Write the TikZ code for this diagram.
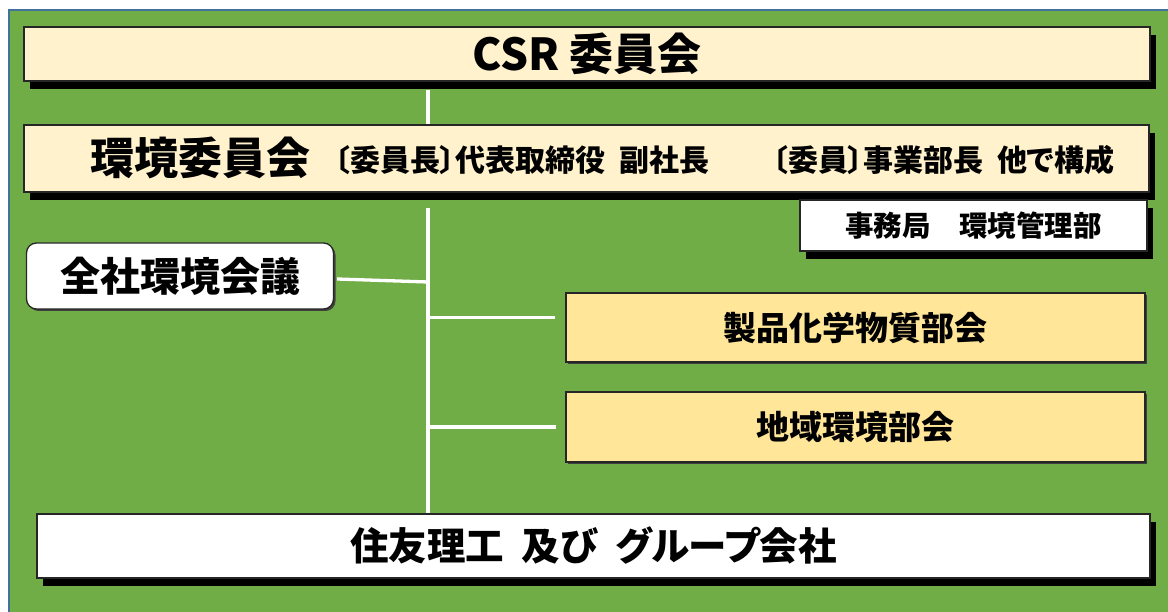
\documentclass[tikz,border=0pt]{standalone}
\usepackage{fontspec}
\setmainfont{Noto Sans CJK JP}
\newfontfamily\jpp{Noto Sans CJK JP}[RawFeature={+palt}]
\usetikzlibrary{shadows,calc}
\definecolor{bggreen}{HTML}{70AD47}
\definecolor{panelblue}{HTML}{41719C}
\definecolor{cream}{HTML}{FFF2CC}
\definecolor{gold}{HTML}{FFE699}
\definecolor{edge}{HTML}{262626}
\tikzset{
  hardshadow/.style={drop shadow={shadow xshift=6pt,shadow yshift=-8pt,opacity=1,fill=black}},
  softshadow/.style={drop shadow={shadow xshift=2pt,shadow yshift=-2pt,opacity=1,fill=black!75}},
  boxbase/.style={rectangle,draw=edge,line width=1.3pt,inner sep=0pt,align=center},
  wire/.style={draw=white,line width=3.3pt},
  txt/.style={inner sep=0pt},
  fs/.style={font=\fontsize{#1}{#1}\selectfont\bfseries}
}
\begin{document}
\begin{tikzpicture}[x=1pt,y=-1pt]
\useasboundingbox (0,0) rectangle (1168,612);
\fill[white] (0,0) rectangle (1168,612);
\draw[fill=bggreen,draw=panelblue,line width=1.5pt] (9,10) rectangle (1172,616);

% boxes
\node[boxbase,hardshadow,fill=cream,minimum width=1126pt,minimum height=54pt,fs=44] (csr) at (587,54) {CSR 委員会};
\node[boxbase,hardshadow,fill=cream,minimum width=1125pt,minimum height=67pt] (env) at (586.5,158.5) {};
\node[boxbase,hardshadow,fill=white,minimum width=347pt,minimum height=51pt,fs=28.5] (sec) at (973.5,225.5) {事務局　環境管理部};
\node[boxbase,fill=white,rounded corners=10pt,softshadow,minimum width=307pt,minimum height=66pt,fs=40] (zen) at (180,276) {全社環境会議};
\node[boxbase,softshadow,fill=gold,minimum width=579pt,minimum height=69pt,fs=33] (prod) at (855.5,327.5) {製品化学物質部会};
\node[boxbase,softshadow,fill=gold,minimum width=579pt,minimum height=70pt,fs=33] (reg) at (855.5,427) {地域環境部会};
\node[boxbase,hardshadow,fill=white,minimum width=1113pt,minimum height=64pt,fs=38.5] (grp) at (593.5,546) {\jpp 住友理工\ \ 及び\ \ グループ会社};

% texts in the environment committee box
\node[txt,anchor=west,fs=44] (envt) at (90,158) {環境委員会};
\node[txt,anchor=west,fs=30] (chair) at (335,160) {\jpp 〔委員長〕代表取締役\hspace{14pt}副社長};
\node[txt,anchor=west,fs=30] (members) at (773,160) {\jpp 〔委員〕事業部長\hspace{14pt}他で構成};

% connectors
\coordinate (s0) at (428,208);
\coordinate (j1) at (428,282);
\draw[wire] ($(csr.south -| s0)+(0,8)$) -- (env.north -| s0);
\draw[wire] (s0) -- (grp.north -| s0);
\draw[wire] ($(zen.east)+(3,3)$) -- (j1);
\draw[wire] ($(s0 |- prod.west)+(0,-10)$) -- ($(prod.west)+(-10,-10)$);
\draw[wire] (s0 |- reg.west) -- ($(reg.west)+(-9,0)$);
\end{tikzpicture}
\end{document}
